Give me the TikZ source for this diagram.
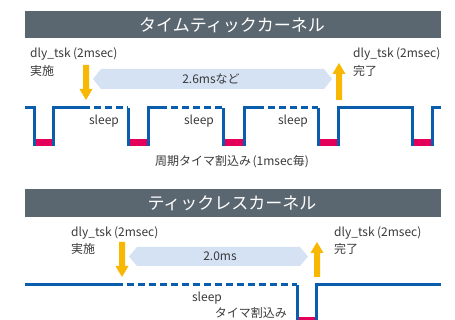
\documentclass[tikz,border=0pt]{standalone}
\usepackage{fontspec}
\setmainfont{Noto Sans CJK JP}
\definecolor{banner}{HTML}{5B6770}
\definecolor{wave}{HTML}{0A5CAD}
\definecolor{pulse}{HTML}{E4005A}
\definecolor{arr}{HTML}{F8B700}
\definecolor{span}{HTML}{D5E2F3}
\definecolor{txt}{HTML}{3A3A3A}
\tikzset{
  bannerbox/.style={fill=banner},
  title/.style={text=white,font=\fontsize{17}{19}\selectfont,inner sep=0},
  lbl/.style={text=txt,font=\fontsize{12}{14}\selectfont,inner sep=0},
  wavesolid/.style={draw=wave,line width=3pt,line join=miter},
  wavedash/.style={draw=wave,line width=3pt,dash pattern=on 7pt off 4pt},
  pink/.style={fill=pulse},
  yarrow/.style={fill=arr},
  spanbox/.style={fill=span}
}
\newcommand{\dlyl}{dly\_tsk\hspace{2.5pt}(2msec)}
\begin{document}
\begin{tikzpicture}[x=1pt,y=-1pt]
\useasboundingbox (0,0) rectangle (455,320);
\clip (0,0) rectangle (455,320);
\fill[white] (0,0) rectangle (455,320);
% ---------- panel 1 ----------
\fill[bannerbox] (25,11) rectangle (441,38);
\node[title] (t1) at (232,25) {タイムティックカーネル};
\node[lbl,anchor=west] (l1a) at (30,54) {\dlyl};
\node[lbl,anchor=west] (l1b) at (30,71) {実施};
\node[lbl,anchor=west] (r1a) at (353,54) {\dlyl};
\node[lbl,anchor=west] (r1b) at (353,71) {完了};
% span hexagon
\fill[spanbox] (93,79) -- (101,69) -- (324,69) -- (332,79) -- (324,89) -- (101,89) -- cycle;
\node[lbl] (s1) at (211,79) {2.6msなど};
% arrows
\fill[yarrow] (83,65) -- (89,65) -- (89,89) -- (92.5,89) -- (86,100) -- (79.5,89) -- (83,89) -- cycle;
\fill[yarrow] (336,100) -- (342,100) -- (342,74) -- (345.5,74) -- (339,63) -- (332.5,74) -- (336,74) -- cycle;
% waveform
\draw[wavesolid] (25,108) -- (34,108) -- (34,145) -- (53,145) -- (53,108) -- (83,108);
\draw[wavedash] (83,108) -- (128,108);
\draw[wavesolid] (128,108) -- (128,145) -- (148,145) -- (148,108) -- (160,108);
\draw[wavedash] (160,108) -- (223,108);
\draw[wavesolid] (223,108) -- (223,145) -- (244,145) -- (244,108) -- (257,108);
\draw[wavedash] (257,108) -- (318,108);
\draw[wavesolid] (318,108) -- (318,145) -- (338,145) -- (338,108) -- (412,108) -- (412,145) -- (432,145) -- (432,108) -- (441,108);
\foreach \a/\b in {34/53,128/148,223/244,318/338,412/432}{
  \fill[pink] (\a+1.5,139.5) rectangle (\b-1.5,146.5);
}
\node[lbl] (sl1) at (104,121) {sleep};
\node[lbl] (sl2) at (199,121) {sleep};
\node[lbl] (sl3) at (293,121) {sleep};
\node[lbl] (cap1) at (232,162) {周期タイマ割込み\hspace{1.5pt}(1msec毎)};
% ---------- panel 2 ----------
\fill[bannerbox] (25,189) rectangle (441,217);
\node[title] (t2) at (232,203) {ティックレスカーネル};
\node[lbl,anchor=west] (l2a) at (71,233) {\dlyl};
\node[lbl,anchor=west] (l2b) at (71,249) {実施};
\node[lbl,anchor=west] (r2a) at (334,233) {\dlyl};
\node[lbl,anchor=west] (r2b) at (334,249) {完了};
\fill[spanbox] (129,256.5) -- (137,247) -- (300,247) -- (308,256.5) -- (300,266) -- (137,266) -- cycle;
\node[lbl] (s2) at (220,256.5) {2.0ms};
\fill[yarrow] (119,242) -- (125,242) -- (125,266) -- (128.5,266) -- (122,277) -- (115.5,266) -- (119,266) -- cycle;
\fill[yarrow] (314,277) -- (320,277) -- (320,253) -- (323.5,253) -- (317,242) -- (310.5,253) -- (314,253) -- cycle;
\draw[wavesolid] (25,285) -- (116,285);
\draw[wavedash] (116,285) -- (297,285);
\draw[wavesolid] (297,285) -- (297,322) -- (316,322) -- (316,285) -- (441,285);
\fill[pink] (298.5,316.5) rectangle (314.5,323.5);
\node[lbl] (sl4) at (207,298) {sleep};
\node[lbl,anchor=east] (cap2) at (287,313) {タイマ割込み};
\end{tikzpicture}
\end{document}
